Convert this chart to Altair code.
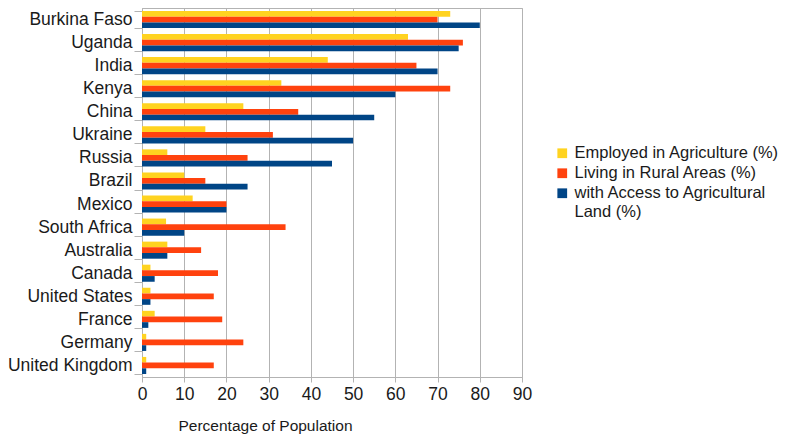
import altair as alt
import pandas as pd

countries = [
    "Burkina Faso", "Uganda", "India", "Kenya", "China", "Ukraine", "Russia",
    "Brazil", "Mexico", "South Africa", "Australia", "Canada", "United States",
    "France", "Germany", "United Kingdom",
]
series = [
    "Employed in Agriculture (%)",
    " Living in Rural Areas (%)",
    "with Access to Agricultural Land (%)",
]
employed = [73, 63, 44, 33, 24, 15, 6, 10, 12, 5.7, 6, 2, 2, 3, 1, 1]
rural = [70, 76, 65, 73, 37, 31, 25, 15, 20, 34, 14, 18, 17, 19, 24, 17]
land = [80, 75, 70, 60, 55, 50, 45, 25, 20, 10, 6, 3, 2, 1.5, 1, 1]
colors = ["#FFD320", "#FF420E", "#004586"]

rows = []
for name, vals in zip(series, [employed, rural, land]):
    for c, v in zip(countries, vals):
        rows.append({"country": c, "series": name, "value": v})
df = pd.DataFrame(rows)

FONT = "Liberation Sans"

chart = (
    alt.Chart(df)
    .mark_bar()
    .encode(
        y=alt.Y(
            "country:N",
            sort=countries,
            title=None,
            scale=alt.Scale(paddingInner=0.26, paddingOuter=0.13),
            axis=alt.Axis(
                tickBand="extent",
                tickSize=8,
                labelPadding=2,
                labelFontSize=17.5,
                labelColor="#1a1a1a",
                domainColor="#b3b3b3",
                tickColor="#b3b3b3",
                grid=False,
            ),
        ),
        yOffset=alt.YOffset("series:N", sort=series),
        x=alt.X(
            "value:Q",
            title="Percentage of Population",
            scale=alt.Scale(domain=[0, 90], nice=False),
            axis=alt.Axis(
                values=list(range(0, 91, 10)),
                tickSize=5,
                labelPadding=3,
                labelFlush=False,
                labelFontSize=17.5,
                labelColor="#1a1a1a",
                titleFontSize=15.5,
                titleFontWeight="normal",
                titleColor="#1a1a1a",
                titlePadding=16,
                titleX=123,
                grid=True,
                gridColor="#b3b3b3",
                domainColor="#b3b3b3",
                tickColor="#b3b3b3",
            ),
        ),
        color=alt.Color(
            "series:N",
            sort=series,
            scale=alt.Scale(domain=series, range=colors),
            legend=alt.Legend(
                title=None,
                orient="none",
                legendX=412,
                legendY=137,
                symbolType="square",
                symbolSize=95,
                symbolStrokeWidth=0,
                labelFontSize=16.5,
                labelColor="#1a1a1a",
                labelLimit=300,
                rowPadding=3,
                labelExpr="datum.label == 'with Access to Agricultural Land (%)' ? ['with Access to Agricultural', 'Land (%)'] : datum.label",
            ),
        ),
    )
    .properties(width=380, height=369)
    .configure(font=FONT, autosize=alt.AutoSizeParams(type="none"),
               padding={"left": 142, "top": 8, "right": 276, "bottom": 57})
    .configure_view(stroke="#b3b3b3", strokeWidth=1)
    .configure_axis(labelFont=FONT, titleFont=FONT)
    .configure_legend(labelFont=FONT)
)

chart.save("out.html", embed_options={"renderer": "svg", "actions": False})
